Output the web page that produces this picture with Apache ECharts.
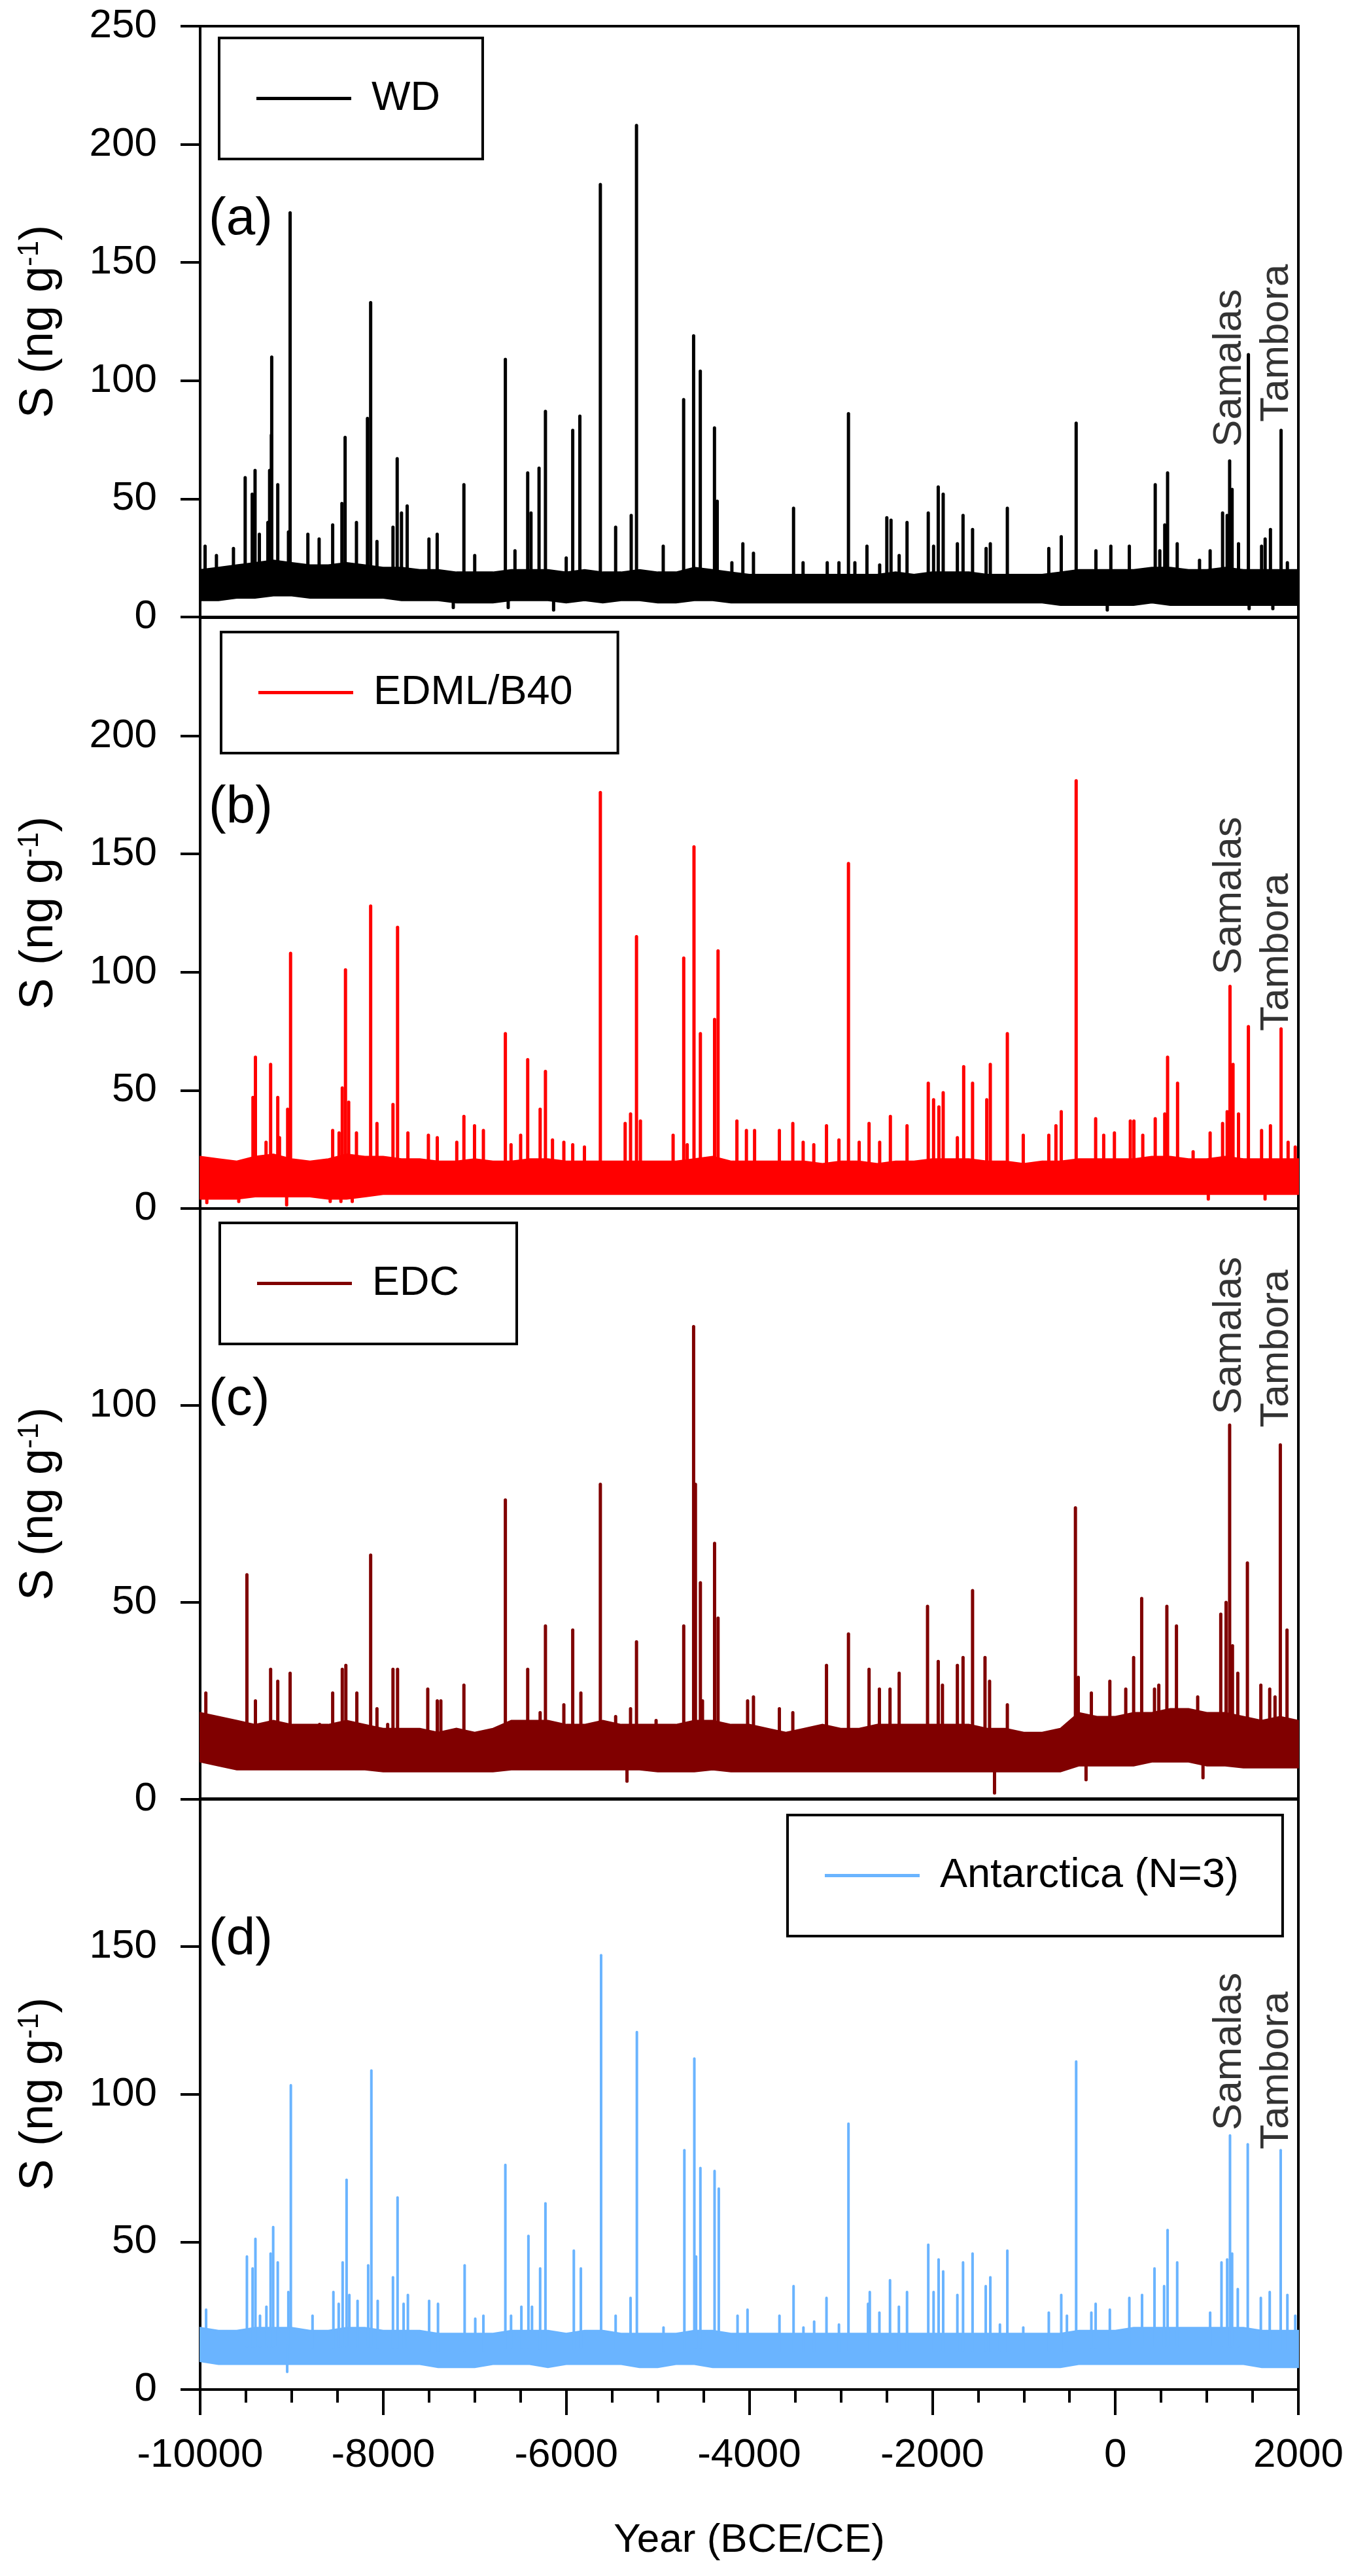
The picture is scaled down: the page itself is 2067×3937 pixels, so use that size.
<!DOCTYPE html>
<html>
<head>
<meta charset="utf-8">
<script src="https://cdn.jsdelivr.net/npm/echarts@6/dist/echarts.min.js"></script>
<style>
  html, body { margin: 0; padding: 0; background: #fff; }
  #chart { width: 2067px; height: 3937px; }
</style>
</head>
<body>
<div id="chart"></div>
<script>
// band of background noise, read per 200 yr (lower / upper edge of the dense trace)
var bandYears = [-10000,-9800,-9600,-9400,-9200,-9000,-8800,-8600,-8400,-8200,
  -8000,-7800,-7600,-7400,-7200,-7000,-6800,-6600,-6400,-6200,
  -6000,-5800,-5600,-5400,-5200,-5000,-4800,-4600,-4400,-4200,
  -4000,-3800,-3600,-3400,-3200,-3000,-2800,-2600,-2400,-2200,
  -2000,-1800,-1600,-1400,-1200,-1000,-800,-600,-400,-200,
  0,200,400,600,800,1000,1200,1400,1600,1800,2000];

var wdLow = [7,7,8,8,9,9,8,8,8,8, 8,7,7,7,6,6,6,7,7,7, 6,7,6,7,7,6,6,7,7,6,
  6,6,6,6,6,6,6,6,6,6, 6,6,6,6,6,6,6,5,5,5, 5,5,6,5,5,5,5,5,5,5,5];
var wdHigh = [20,21,22,23,24,23,22,22,23,22, 21,21,20,20,19,19,19,20,20,20, 19,20,19,19,20,19,19,21,20,19,
  18,18,18,18,18,18,18,18,19,18, 19,19,19,18,18,18,18,19,20,20, 20,20,21,21,20,20,21,20,20,20,20];

var edmlLow = [4,4,4,5,5,5,5,4,4,5, 6,6,6,6,6,6,6,6,6,6, 6,6,6,6,6,6,6,6,6,6,
  6,6,6,6,6,6,6,6,6,6, 6,6,6,6,6,6,6,6,6,6, 6,6,6,6,6,6,6,6,6,6,6];
var edmlHigh = [22,21,20,22,23,21,20,21,23,22, 22,21,21,20,20,21,20,20,21,21, 20,20,20,20,20,20,20,21,22,20,
  20,20,20,20,19,20,20,19,20,20, 21,21,21,20,20,19,20,20,21,21, 21,21,22,22,21,21,22,21,21,21,21];

var edcLow = [9.5,8.5,7.5,7.5,7.5,7.5,7.5,7.5,7.5,7.5, 7,7,7,7,7,7,7,7.5,7.5,7.5, 7.5,7.5,7.5,7.5,7.5,7,7,7,7.5,7,
  7,7,7,7,7,7,7,7,7,7, 7,7,7,7,7,7,7,7,8.5,8.5, 8.5,8.5,9.5,9.5,9.5,8.5,8.5,8,8,8,8];
var edcHigh = [22,21,20,19,20,19,19,19,20,19, 18,18,18,17,18,17,18,20,20,20, 19,19,20,19,19,19,19,20,20,19,
  19,18,17,18,19,18,18,19,19,19, 19,19,19,18,18,17,17,18,22,21, 21,22,22,23,23,22,22,21,20,21,20];

var antLow = [9.5,8.5,8.5,8.5,8.5,8.5,8.5,8.5,8.5,8.5, 8.5,8.5,8.5,7.5,7.5,7.5,8.5,8.5,8.5,7.5, 8.5,8.5,8.5,8.5,7.5,7.5,8.5,8.5,7.5,7.5,
  7.5,7.5,7.5,7.5,7.5,7.5,7.5,7.5,7.5,7.5, 7.5,7.5,7.5,7.5,7.5,7.5,7.5,7.5,8.5,8.5, 8.5,8.5,8.5,8.5,8.5,8.5,8.5,8.5,7.5,7.5,7.5];
var antHigh = [21,20,20,21,21,21,20,20,21,21, 20,20,20,19,19,19,19,20,20,20, 19,20,20,19,19,19,19,20,20,19,
  19,19,19,19,19,19,19,19,19,19, 19,19,19,19,19,19,19,19,20,20, 20,21,21,21,21,21,21,21,20,20,20];

// individual peaks (and a few dips) as [year, S]
var wdPeaks = [[-9946,30],[-9822,26],[-9636,29],[-9508,59],[-9431,52],[-9400,62],[-9353,35],[-9260,40],
  [-9241,62],[-9222,77],[-9218,110],[-9152,56],[-9035,36],[-9017,171],[-8823,35],[-8700,33],[-8552,39],
  [-8451,48],[-8416,76],[-8292,40],[-8172,84],[-8137,133],[-8068,32],[-7893,38],[-7847,67],[-7800,44],
  [-7738,47],[-7500,33],[-7410,35],[-7118,56],[-7000,26],[-6665,109],[-6560,28],[-6421,61],[-6385,44],
  [-6297,63],[-6227,87],[-6000,25],[-5929,79],[-5851,85],[-5627,183],[-5460,38],[-5290,43],[-5232,208],
  [-4940,30],[-4717,92],[-4608,119],[-4535,104],[-4380,80],[-4350,49],[-4190,23],[-4070,31],
  [-3954,27],[-3516,46],[-3412,23],[-3148,23],[-3020,23],[-2916,86],[-2846,23],[-2714,30],[-2575,22],
  [-2497,42],[-2451,41],[-2362,26],[-2276,40],[-2044,44],[-1986,30],[-1935,55],[-1881,52],[-1726,31],
  [-1664,43],[-1560,37],[-1412,29],[-1366,31],[-1180,46],[-727,29],[-591,34],[-428,82],[-212,28],
  [-49,30],[153,30],[436,56],[486,28],[540,39],[571,61],[676,31],[920,24],[1036,28],[1172,44],
  [1222,43],[1249,66],[1276,54],[1346,31],[1454,111],[1598,30],[1637,33],[1695,37],[1811,79],[1880,23],
  [-7234,4],[-6634,4],[-6138,3],[-88,3],[1462,3.5],[1721,3.5]];

var edmlPeaks = [[-9423,47],[-9396,64],[-9280,28],[-9230,61],[-9152,47],[-9133,30],[-9044,42],[-9012,108],
  [-8552,33],[-8482,32],[-8447,51],[-8412,101],[-8377,45],[-8292,32],[-8137,128],[-8068,36],[-7893,44],
  [-7843,119],[-7730,32],[-7506,31],[-7409,30],[-7196,28],[-7118,39],[-7002,35],[-6905,33],[-6665,74],
  [-6603,27],[-6498,31],[-6421,63],[-6285,42],[-6227,58],[-6150,29],[-6026,28],[-5929,27],[-5801,26],
  [-5627,176],[-5356,36],[-5297,40],[-5232,115],[-5189,37],[-4832,31],[-4716,106],[-4678,27],[-4604,153],
  [-4534,74],[-4379,80],[-4341,109],[-4135,37],[-4031,33],
  [-3942,33],[-3671,33],[-3524,36],[-3411,28],[-3295,27],[-3156,35],[-3020,29],[-2916,146],[-2799,28],
  [-2691,36],[-2575,28],[-2458,39],[-2276,35],[-2044,53],[-1986,46],[-1928,43],[-1881,49],[-1726,30],
  [-1657,60],[-1560,53],[-1405,46],[-1366,61],[-1180,74],[-1006,31],[-727,31],[-649,35],[-591,41],
  [-428,181],[-215,38],[-127,31],[-10,32],[164,37],[203,37],[300,31],[436,38],[540,40],[571,64],
  [680,53],[850,24],[1036,32],[1172,36],[1222,41],[1253,94],[1286,61],[1346,40],[1454,77],[1598,33],
  [1695,35],[1811,76],[1888,28],[1966,26],
  [-9927,2.5],[-9578,3],[-9055,1.5],[-8579,3],[-8462,3],[-8338,3],[1016,4],[1636,4]];

var edcPeaks = [[-9938,27],[-9870,19],[-9489,57],[-9396,25],[-9230,33],[-9152,30],[-9017,32],[-8695,19],
  [-8552,27],[-8447,33],[-8408,34],[-8288,27],[-8137,62],[-8068,23],[-7951,19],[-7893,33],[-7843,33],
  [-7513,28],[-7409,25],[-7370,25],[-7118,29],[-6665,76],[-6421,33],[-6285,22],[-6227,44],[-6026,24],
  [-5929,43],[-5840,27],[-5627,80],[-5460,21],[-5297,23],[-5232,40],[-5018,20],[-4716,44],[-4608,120],
  [-4588,80],[-4534,55],[-4511,25],[-4379,65],[-4341,46],[-4018,25],
  [-3954,26],[-3671,23],[-3524,22],[-3156,34],[-2916,42],[-2691,33],[-2578,28],[-2462,28],[-2362,32],
  [-2052,49],[-1935,35],[-1889,29],[-1726,34],[-1664,36],[-1560,53],[-1424,36],[-1374,30],[-1180,24],
  [-436,74],[-405,31],[-262,27],[-60,30],[114,28],[200,36],[288,51],[428,28],[475,29],[563,49],
  [668,44],[900,26],[1152,47],[1210,50],[1249,95],[1280,39],[1338,32],[1443,60],[1590,29],[1687,28],
  [1745,26],[1803,90],[1876,43],
  [-5336,4.6],[-1320,1.6],[-320,5],[958,5.5]];

var antPeaks = [[-9935,27],[-9489,45],[-9427,41],[-9396,51],[-9346,25],[-9276,28],[-9230,46],[-9202,55],
  [-9152,43],[-9036,33],[-9009,103],[-8772,25],[-8544,33],[-8486,29],[-8443,43],[-8400,71],[-8370,32],
  [-8280,30],[-8164,42],[-8129,108],[-8060,30],[-7893,38],[-7843,65],[-7777,29],[-7730,32],[-7498,30],
  [-7401,29],[-7110,42],[-6994,24],[-6905,25],[-6665,76],[-6603,25],[-6490,28],[-6413,52],[-6374,28],
  [-6285,41],[-6227,63],[-5917,47],[-5840,41],[-5619,147],[-5460,25],[-5297,31],[-5228,121],[-4937,21],
  [-4709,81],[-4600,112],[-4581,45],[-4534,75],[-4379,74],[-4333,68],[-4128,25],[-4019,27],
  [-3670,25],[-3516,35],[-3408,21],[-3291,23],[-3156,31],[-3020,22],[-2916,90],[-2702,29],[-2683,33],
  [-2578,26],[-2462,37],[-2365,28],[-2276,33],[-2044,49],[-1986,33],[-1931,44],[-1881,40],[-1726,32],
  [-1664,43],[-1560,46],[-1416,35],[-1366,38],[-1261,22],[-1180,47],[-1006,21],[-727,26],[-591,32],
  [-529,25],[-428,111],[-262,26],[-215,29],[-60,27],[153,31],[292,32],[428,41],[533,35],[571,54],
  [676,43],[1036,26],[1160,43],[1222,44],[1253,86],[1276,46],[1338,34],[1447,83],[1590,31],[1687,33],
  [1807,81],[1880,32],[1966,25],
  [-9049,6]];

var names = ['WD', 'EDML/B40', 'EDC', 'Antarctica (N=3)'];
var panelTags = ['(a)', '(b)', '(c)', '(d)'];
var colors = ['#000000', '#ff0000', '#800000', '#6ab4ff'];
var yMax = [250, 250, 150, 200];
var xTicks = [-10000, 2000, 2000]; // min, max, interval

var volcanoNames = ['Samalas', 'Tambora'];
var volcanoYears = [1250, 1764];
var volcanoLabelS = [[72, 82.5], [99, 75], [97.7, 94.4], [87.7, 81.3]];

var lows = [wdLow, edmlLow, edcLow, antLow];
var highs = [wdHigh, edmlHigh, edcHigh, antHigh];
var peaks = [wdPeaks, edmlPeaks, edcPeaks, antPeaks];

var FONT = 'Liberation Sans, Arial, Helvetica, sans-serif';
var gridTops = [40, 944, 1847, 2749];
var gridH = 903;
var legendPos = [[335, 58, 65], [338, 966, 69], [336, 1869, 88], [1204, 2774, 67]];
var tagTops = [296, 1195, 2100, 2925];
var lineW = [5, 5, 5, 4];

function nearestBand(yr) {
  var best = 0;
  for (var k = 1; k < bandYears.length; k++) {
    if (Math.abs(bandYears[k] - yr) < Math.abs(bandYears[best] - yr)) best = k;
  }
  return best;
}

var chart = echarts.init(document.getElementById('chart'));

var grids = [], xAxes = [], yAxes = [], series = [], legends = [], titles = [];

for (var i = 0; i < 4; i++) {
  var last = (i === 3);
  grids.push({
    left: 306, width: 1679, top: gridTops[i], height: gridH,
    show: true, borderColor: '#000', borderWidth: 4, backgroundColor: 'transparent',
    outerBoundsMode: 'none', containLabel: false
  });
  xAxes.push({
    gridIndex: i, type: 'value', min: xTicks[0], max: xTicks[1], interval: xTicks[2],
    axisLine: { show: true, onZero: false, lineStyle: { color: '#000', width: 4 } },
    axisTick: { show: last, length: 39, lineStyle: { color: '#000', width: 4 } },
    minorTick: { show: last, splitNumber: 4, length: 20, lineStyle: { color: '#000', width: 4 } },
    axisLabel: { show: last, margin: 70, fontSize: 62, color: '#000', fontFamily: FONT,
      formatter: function (v) { return String(v); } },
    splitLine: { show: false },
    minorSplitLine: { show: false },
    name: last ? 'Year (BCE/CE)' : '',
    nameLocation: 'middle', nameGap: 200,
    nameTextStyle: { fontSize: 62, color: '#000', fontFamily: FONT }
  });
  yAxes.push({
    gridIndex: i, type: 'value', min: 0, max: yMax[i], interval: 50,
    axisLine: { show: true, onZero: false, lineStyle: { color: '#000', width: 4 } },
    axisTick: { show: true, length: 30, lineStyle: { color: '#000', width: 4 } },
    axisLabel: { margin: 66, fontSize: 62, color: '#000', fontFamily: FONT,
      showMaxLabel: i === 0, showMinLabel: true },
    splitLine: { show: false },
    name: 'S (ng g{sup|-1})',
    nameLocation: 'middle', nameGap: 210,
    nameTextStyle: {
      fontSize: 72, color: '#000', fontFamily: FONT, lineHeight: 72,
      rich: { sup: { fontSize: 44, color: '#000', fontFamily: FONT, verticalAlign: 'top', lineHeight: 44 } }
    }
  });

  (function (i) {
    var low = lows[i], high = highs[i], col = colors[i];
    // noise band
    series.push({
      type: 'custom', name: names[i], xAxisIndex: i, yAxisIndex: i,
      itemStyle: { color: col }, silent: true, z: 2,
      data: [[bandYears[0], low[0]]],
      encode: { x: 0, y: 1 },
      renderItem: function (params, api) {
        var pts = [];
        for (var j = 0; j < bandYears.length; j++) pts.push(api.coord([bandYears[j], high[j]]));
        for (var j2 = bandYears.length - 1; j2 >= 0; j2--) pts.push(api.coord([bandYears[j2], low[j2]]));
        return { type: 'polygon', shape: { points: pts }, style: { fill: col, stroke: col, lineWidth: 2 } };
      }
    });
    // peaks
    series.push({
      type: 'custom', name: names[i], xAxisIndex: i, yAxisIndex: i,
      itemStyle: { color: col }, silent: true, z: 3,
      data: peaks[i],
      encode: { x: 0, y: 1 },
      renderItem: function (params, api) {
        var yr = api.value(0), v = api.value(1);
        var k = nearestBand(yr);
        var mid = (low[k] + high[k]) / 2;
        var a = api.coord([yr, mid]);
        var b = api.coord([yr, v]);
        return { type: 'line', shape: { x1: a[0], y1: a[1], x2: b[0], y2: b[1] },
          style: { stroke: col, lineWidth: lineW[i], lineCap: 'round' } };
      }
    });
    // volcano names
    series.push({
      type: 'scatter', name: 'volc' + i, xAxisIndex: i, yAxisIndex: i,
      symbolSize: 1, itemStyle: { color: 'rgba(0,0,0,0)' }, silent: true, z: 4,
      data: [[volcanoYears[0], volcanoLabelS[i][0]], [volcanoYears[1], volcanoLabelS[i][1]]],
      label: {
        show: true, position: 'inside', rotate: 90, align: 'left', verticalAlign: 'middle',
        fontSize: 62, color: '#000', fontFamily: FONT,
        formatter: function (p) { return volcanoNames[p.dataIndex]; }
      }
    });
  })(i);

  legends.push({
    data: [names[i]], left: legendPos[i][0], top: legendPos[i][1], orient: 'horizontal',
    icon: 'rect', itemWidth: 145, itemHeight: 5, selectedMode: false,
    padding: [61, legendPos[i][2], 61, 57],
    borderColor: '#000', borderWidth: 4, backgroundColor: '#fff',
    textStyle: { fontSize: 63, color: '#000', fontFamily: FONT, lineHeight: 63, padding: [0, 0, 0, 26] }
  });
  titles.push({
    text: panelTags[i], left: 319, top: tagTops[i], padding: 0,
    textStyle: { fontSize: 80, fontWeight: 'normal', color: '#000', fontFamily: FONT, lineHeight: 80 }
  });
}

chart.setOption({
  animation: false,
  backgroundColor: '#fff',
  title: titles,
  legend: legends,
  grid: grids,
  xAxis: xAxes,
  yAxis: yAxes,
  series: series
});
</script>
</body>
</html>
